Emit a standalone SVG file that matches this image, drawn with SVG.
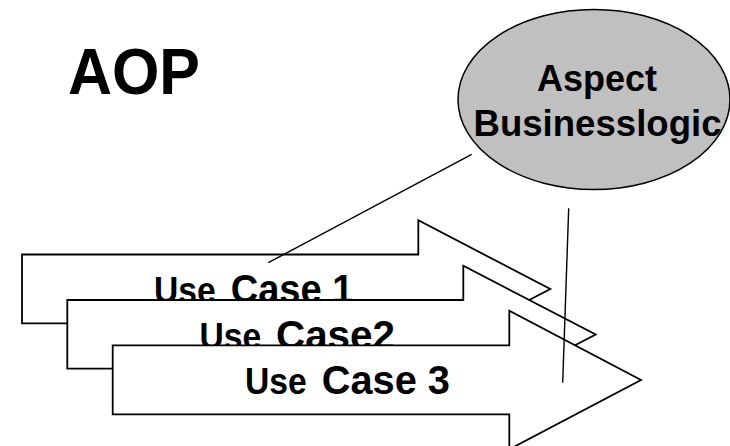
<svg xmlns="http://www.w3.org/2000/svg" width="730" height="446" viewBox="0 0 730 446">
  <style>
    .bold { font-family: "Liberation Sans", Arial, sans-serif; font-weight: bold; fill: #000; }
    .arrow { fill: #fff; stroke: #000; stroke-width: 1.8; stroke-linejoin: miter; }
    .link { stroke: #000; stroke-width: 1.4; fill: none; }
  </style>
  <rect width="730" height="446" fill="#fff"/>

  <!-- title -->
  <g id="title">
    <text class="bold" x="68" y="94" font-size="64" textLength="132" lengthAdjust="spacingAndGlyphs">AOP</text>
  </g>

  <!-- aspect bubble -->
  <g id="aspect">
    <ellipse cx="594" cy="99.5" rx="136" ry="90" fill="#c0c0c0" stroke="#000" stroke-width="1.5"/>
    <text class="bold" x="597" y="91" font-size="36" text-anchor="middle">Aspect</text>
    <text class="bold" x="597.5" y="135.5" font-size="36" text-anchor="middle" textLength="248" lengthAdjust="spacingAndGlyphs">Businesslogic</text>
  </g>

  <!-- use case arrows, stacked back to front -->
  <g id="usecase1">
    <polygon class="arrow" points="22,254.5 418.3,254.5 418.3,220.3 550.3,289 418.3,357.7 418.3,323.3 22,323.3"/>
    <text class="bold" x="154" y="303.3" font-size="37" textLength="61.7" lengthAdjust="spacingAndGlyphs">Use</text>
    <text class="bold" x="230.7" y="303.3" font-size="41" textLength="122.6" lengthAdjust="spacingAndGlyphs">Case 1</text>
  </g>

  <g id="usecase2">
    <polygon class="arrow" points="67.3,300 463.3,300 463.3,265.7 595.7,334.5 463.3,403.3 463.3,368.7 67.3,368.7"/>
    <text class="bold" x="199.5" y="348.8" font-size="37" textLength="61.7" lengthAdjust="spacingAndGlyphs">Use</text>
    <text class="bold" x="276" y="348.8" font-size="41" textLength="119" lengthAdjust="spacingAndGlyphs">Case2</text>
  </g>

  <g id="usecase3">
    <polygon class="arrow" points="112.7,345.3 509.3,345.3 509.3,310.7 641,380 509.3,449.3 509.3,414.3 112.7,414.3"/>
    <text class="bold" x="245" y="394.3" font-size="37" textLength="61.7" lengthAdjust="spacingAndGlyphs">Use</text>
    <text class="bold" x="321.7" y="394.3" font-size="41" textLength="128.3" lengthAdjust="spacingAndGlyphs">Case 3</text>
  </g>

  <!-- connectors from the aspect into the use cases -->
  <g id="connectors">
    <line class="link" x1="471.7" y1="154.3" x2="268.3" y2="262.7"/>
    <line class="link" x1="568.7" y1="208.3" x2="562.7" y2="382.7"/>
  </g>
</svg>
